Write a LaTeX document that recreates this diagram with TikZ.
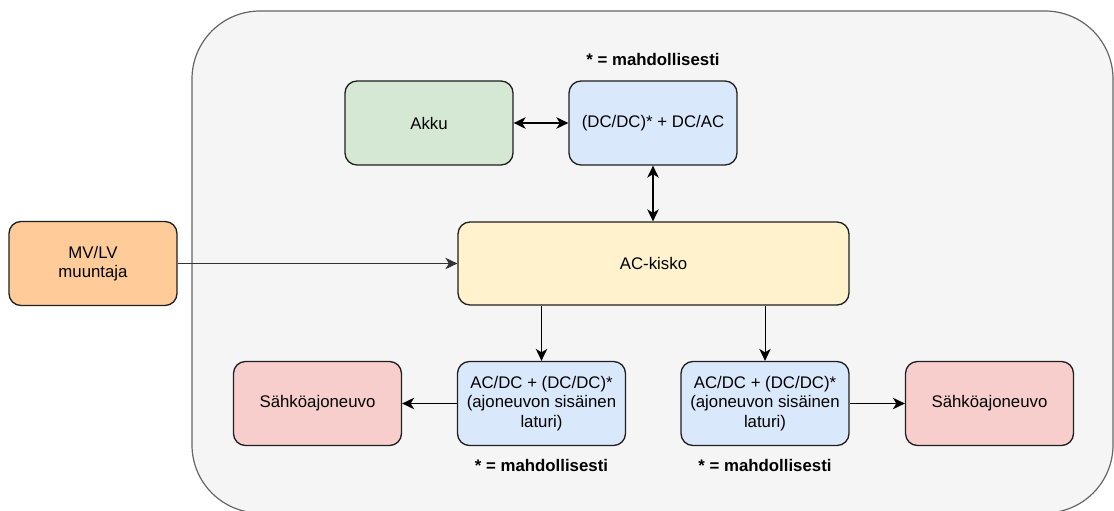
\documentclass[tikz,border=0pt]{standalone}
\usepackage{fontspec}
\setmainfont{Liberation Sans}
\usetikzlibrary{arrows.meta}
\definecolor{panelfill}{HTML}{F5F5F5}
\definecolor{panelline}{HTML}{666666}
\definecolor{orangefill}{HTML}{FFCC99}
\definecolor{greenfill}{HTML}{D5E8D4}
\definecolor{bluefill}{HTML}{DAE8FC}
\definecolor{yellowfill}{HTML}{FFF2CC}
\definecolor{redfill}{HTML}{F8CECC}
\definecolor{boxline}{HTML}{1F1F1F}
\definecolor{thinline}{HTML}{333333}
\tikzset{
  box/.style={draw=boxline, line width=1.3pt, rounded corners=12pt,
    minimum width=168pt, minimum height=84pt, inner sep=0pt,
    align=center, font=\fontsize{16.8}{19.5}\selectfont},
  note/.style={font=\fontsize{16.8}{19.5}\selectfont\bfseries, inner sep=0pt},
  link/.style={line width=1.5pt, black},
  thinlink/.style={line width=1pt, thinline},
  >={Stealth[length=12pt, width=11.5pt, inset=3.5pt]},
}
\begin{document}
\begin{tikzpicture}[x=1pt, y=-1pt]
\useasboundingbox (0,0) rectangle (1114,511);
% enclosing panel
\draw[fill=panelfill, draw=panelline, line width=1.2pt, rounded corners=68pt]
  (192,11) rectangle (1113,513);

% blocks
\node[box, fill=orangefill] (mv) at (93,263.5) {MV/LV\\muuntaja};
\node[box, fill=greenfill] (akku) at (429,123) {Akku};
\node[box, fill=bluefill] (dcac) at (653,123) {(DC/DC)* + DC/AC};
\node[box, fill=yellowfill, minimum width=391pt, minimum height=83pt] (bus) at (653.5,263.5) {AC-kisko};
\node[box, fill=bluefill] (chl) at (541.5,403.5) {AC/DC + (DC/DC)*\\(ajoneuvon sisäinen\\laturi)};
\node[box, fill=redfill] (evl) at (317.5,403.5) {Sähköajoneuvo};
\node[box, fill=bluefill] (chr) at (765,403.5) {AC/DC + (DC/DC)*\\(ajoneuvon sisäinen\\laturi)};
\node[box, fill=redfill] (evr) at (989.5,403.5) {Sähköajoneuvo};

% footnotes
\node[note] (n1) at (653,59) {* = mahdollisesti};
\node[note] (n2) at (541.5,465) {* = mahdollisesti};
\node[note] (n3) at (765,465) {* = mahdollisesti};

% connections
\draw[link, <->] (akku.east) -- (dcac.west);
\draw[link, <->] (dcac.south) -- (dcac.south |- bus.north);
\draw[thinlink, ->] (mv.east) -- (bus.west);
\draw[link, ->] (chl.north |- bus.south) -- (chl.north);
\draw[thinlink, black, ->] (chr.north |- bus.south) -- (chr.north);
\draw[link, ->] (chl.west) -- (evl.east);
\draw[link, ->] (chr.east) -- (evr.west);
\end{tikzpicture}
\end{document}
